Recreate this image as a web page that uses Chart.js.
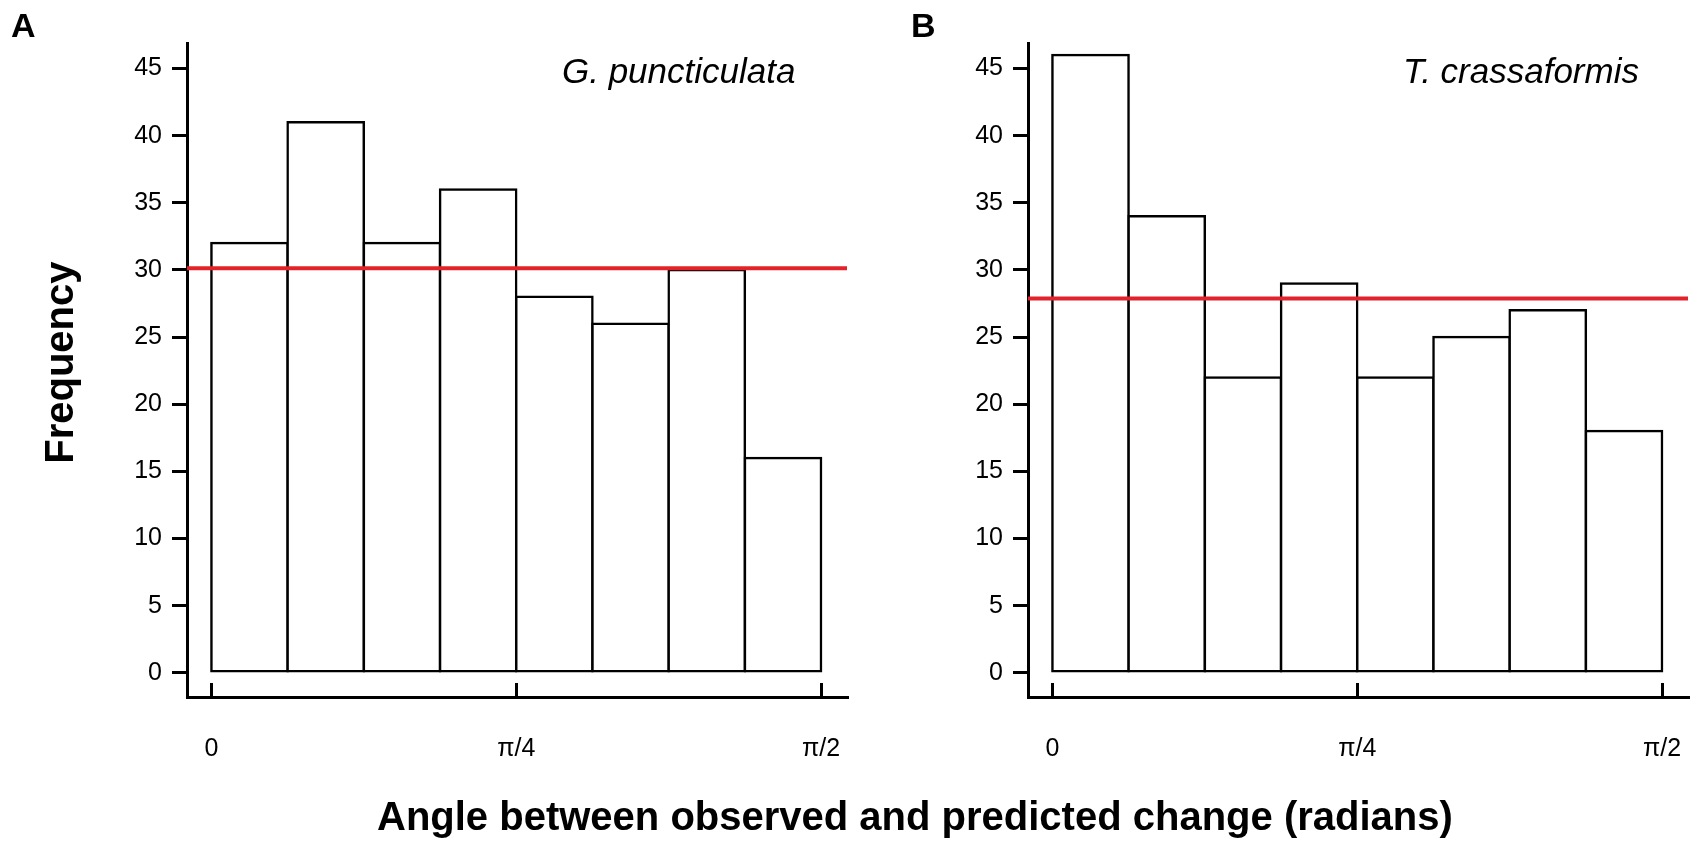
<!DOCTYPE html>
<html>
<head>
<meta charset="utf-8">
<script src="https://cdn.jsdelivr.net/npm/chart.js@4.4.1/dist/chart.umd.min.js"></script>
<style>
  body { margin: 0; background: #fff; }
  #wrap { position: relative; width: 1704px; height: 850px; font-family: "Liberation Sans", Arial, sans-serif; }
  canvas { position: absolute; top: 0; }
  .panel { position: absolute; font-weight: bold; font-size: 34px; line-height: 1; top: 8px; }
  #xtitle { position: absolute; left: 377px; top: 796px; font-weight: bold; font-size: 40px; line-height: 1; white-space: nowrap; }
</style>
</head>
<body>
<div id="wrap">
  <canvas id="chartA" width="852" height="850" style="left:0"></canvas>
  <canvas id="chartB" width="852" height="850" style="left:852px"></canvas>
  <div class="panel" style="left:11px">A</div>
  <div class="panel" style="left:911px">B</div>
  <div id="xtitle">Angle between observed and predicted change (radians)</div>
</div>
<script>
// bin midpoints (8 bins from 0 to pi/2, in bin units)
const binMids = [0.5, 1.5, 2.5, 3.5, 4.5, 5.5, 6.5, 7.5];
const gpValues = [32, 41, 32, 36, 28, 26, 30, 16];
const tcValues = [46, 34, 22, 29, 22, 25, 27, 18];
const gpExpected = 30.125;
const tcExpected = 27.875;

const xTickValues = [0, 4, 8];
const xTickLabels = ['0', 'π/4', 'π/2'];
const yTickValues = [0, 5, 10, 15, 20, 25, 30, 35, 40, 45];

const xMin = -0.32, xMax = 8.34;
const yMin = -1.8, yMax = 46.9;

const FONT = '"Liberation Sans", Arial, sans-serif';

// species name in the top right, and the y title (panel A only)
const panelText = {
  id: 'panelText',
  afterDatasetsDraw(chart, args, opts) {
    const { ctx, scales } = chart;
    ctx.save();
    ctx.fillStyle = '#000';
    ctx.font = 'italic 35px ' + FONT;
    ctx.textAlign = 'left';
    ctx.textBaseline = 'alphabetic';
    ctx.fillText(opts.text, scales.x.getPixelForValue(opts.x), scales.y.getPixelForValue(opts.y));
    if (opts.yTitle) {
      ctx.font = 'bold 40px ' + FONT;
      ctx.textAlign = 'center';
      ctx.textBaseline = 'middle';
      ctx.translate(62, scales.y.getPixelForValue(23.1));
      ctx.rotate(-Math.PI / 2);
      ctx.fillText(opts.yTitle, 0, 0);
    }
    ctx.restore();
  }
};

function makeChart(id, values, expected, species, yWidth, padRight, yTitle) {
  const ctx = document.getElementById(id).getContext('2d');
  return new Chart(ctx, {
    type: 'bar',
    data: {
      datasets: [
        {
          type: 'line',
          data: [{ x: xMin, y: expected }, { x: xMax, y: expected }],
          borderColor: '#e2232a',
          borderWidth: 4,
          pointRadius: 0,
          order: 0
        },
        {
          type: 'bar',
          data: binMids.map((x, i) => ({ x: x, y: values[i] })),
          backgroundColor: '#fff',
          borderColor: '#000',
          borderWidth: 2.5,
          borderSkipped: false,
          inflateAmount: 1.25,
          barPercentage: 1,
          categoryPercentage: 1,
          order: 1
        }
      ]
    },
    options: {
      responsive: false,
      animation: false,
      devicePixelRatio: 1,
      layout: { padding: { left: 0, right: padRight, top: 43, bottom: 0 } },
      plugins: {
        legend: { display: false },
        tooltip: { enabled: false },
        panelText: { text: species, x: 4.6, y: 43.9, yTitle: yTitle }
      },
      scales: {
        x: {
          type: 'linear',
          min: xMin,
          max: xMax,
          offset: false,
          afterBuildTicks: (axis) => { axis.ticks = xTickValues.map(v => ({ value: v })); },
          afterFit: (scale) => {
            scale.height = 153;
            scale.paddingLeft = 0;
            scale.paddingRight = 0;
          },
          ticks: {
            callback: (v) => xTickLabels[xTickValues.indexOf(v)],
            font: { family: FONT, size: 25 },
            color: '#000',
            padding: 51,
            maxRotation: 0
          },
          grid: { offset: false, drawOnChartArea: false, drawTicks: true, tickLength: -14, color: '#000', lineWidth: 3 },
          border: { display: true, color: '#000', width: 3 }
        },
        y: {
          min: yMin,
          max: yMax,
          afterBuildTicks: (axis) => { axis.ticks = yTickValues.map(v => ({ value: v })); },
          afterFit: (scale) => { scale.width = yWidth; },
          ticks: {
            font: { family: FONT, size: 25 },
            color: '#000',
            padding: 10
          },
          grid: { drawOnChartArea: false, drawTicks: true, tickLength: 15, color: '#000', lineWidth: 3 },
          border: { display: true, color: '#000', width: 3 }
        }
      }
    },
    plugins: [panelText]
  });
}

makeChart('chartA', gpValues, gpExpected, 'G. puncticulata', 187, 5, 'Frequency');
makeChart('chartB', tcValues, tcExpected, 'T. crassaformis', 176, 16, null);
</script>
</body>
</html>
